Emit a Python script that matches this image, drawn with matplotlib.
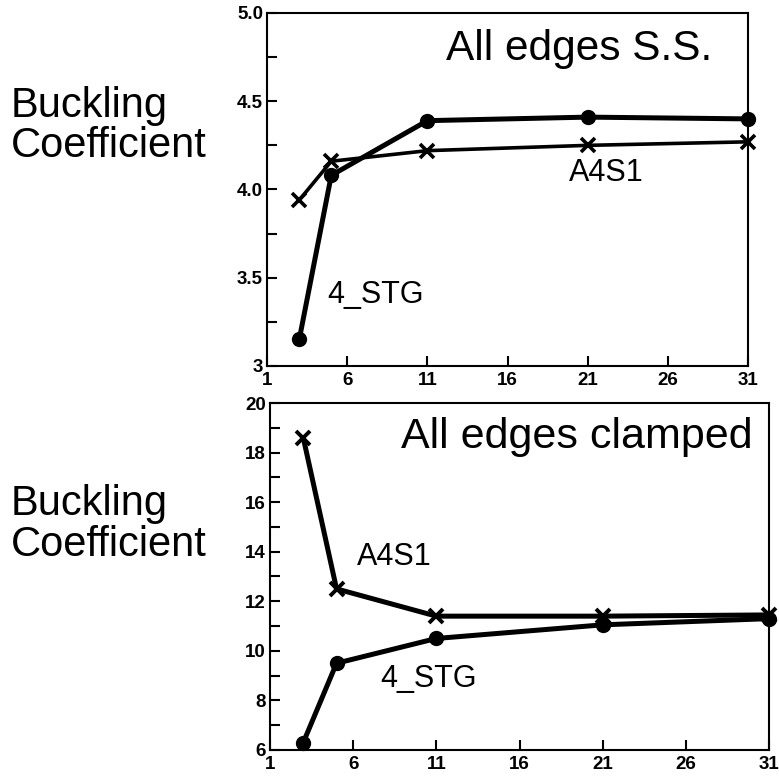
import numpy as np
import matplotlib.pyplot as plt
from matplotlib.ticker import MultipleLocator

plt.rcParams['font.family'] = ['Liberation Sans', 'DejaVu Sans']

# 数据
x_vals = [3, 5, 11, 21, 31]
ss_stg = [3.15, 4.08, 4.39, 4.41, 4.40]
ss_a4s1 = [3.94, 4.16, 4.22, 4.25, 4.27]
cl_a4s1 = [18.6, 12.5, 11.4, 11.4, 11.45]
cl_stg = [6.3, 9.5, 10.5, 11.05, 11.3]
x_ticks = [1, 6, 11, 16, 21, 26, 31]
ss_yticks = [3, 3.5, 4.0, 4.5, 5.0]
ss_ylabels = ['3', '3.5', '4.0', '4.5', '5.0']
cl_yticks = [6, 8, 10, 12, 14, 16, 18, 20]
cl_ylabels = ['6', '8', '10', '12', '14', '16', '18', '20']

fig = plt.figure(figsize=(7.79, 7.78), dpi=100)
ax1 = fig.add_axes([0.343, 0.5296, 0.617, 0.4537])
ax2 = fig.add_axes([0.3466, 0.036, 0.6406, 0.446])

def style(ax, ylim, yticks, ylabels, minor):
    ax.set_xlim(1, 31)
    ax.set_ylim(*ylim)
    ax.set_xticks(x_ticks, [str(t) for t in x_ticks], fontweight='bold', fontsize=13.5)
    ax.set_yticks(yticks, ylabels, fontweight='bold', fontsize=13.5)
    ax.yaxis.set_minor_locator(MultipleLocator(minor))
    ax.tick_params(which='both', direction='in', width=1.5, length=7)
    ax.tick_params(axis='x', pad=4)
    ax.tick_params(axis='y', pad=3)
    for s in ax.spines.values():
        s.set_linewidth(1.5)

# 上图：简支
ax1.plot(x_vals, ss_stg, color='black', lw=3.6, marker='o', ms=10, clip_on=False)
ax1.plot(x_vals, ss_a4s1, color='black', lw=2.6, marker='x', ms=10, mew=2.6, clip_on=False)
style(ax1, (3, 5), ss_yticks, ss_ylabels, 0.25)
ax1.text(28.8, 4.734, 'All edges S.S.', ha='right', va='baseline', fontsize=30.5)
ax1.text(4.74, 3.357, '4_STG', va='baseline', fontsize=22)
ax1.text(19.84, 4.048, 'A4S1', va='baseline', fontsize=22)

# 下图：固支
ax2.plot(x_vals, cl_a4s1, color='black', lw=3.6, marker='x', ms=10, mew=2.8, clip_on=False)
ax2.plot(x_vals, cl_stg, color='black', lw=3.6, marker='o', ms=10, clip_on=False)
style(ax2, (6, 20), cl_yticks, cl_ylabels, 1)
ax2.text(30.0, 18.17, 'All edges clamped', ha='right', va='baseline', fontsize=31)
ax2.text(6.23, 13.48, 'A4S1', va='baseline', fontsize=22)
ax2.text(7.64, 8.53, '4_STG', va='baseline', fontsize=22)

for yb in (0.8496, 0.338):
    fig.text(0.014, yb, 'Buckling', fontsize=30, va='baseline', ha='left')
for yb in (0.798, 0.2853):
    fig.text(0.014, yb, 'Coefficient', fontsize=30, va='baseline', ha='left')

fig.savefig('out.png', dpi=100, facecolor='white')
